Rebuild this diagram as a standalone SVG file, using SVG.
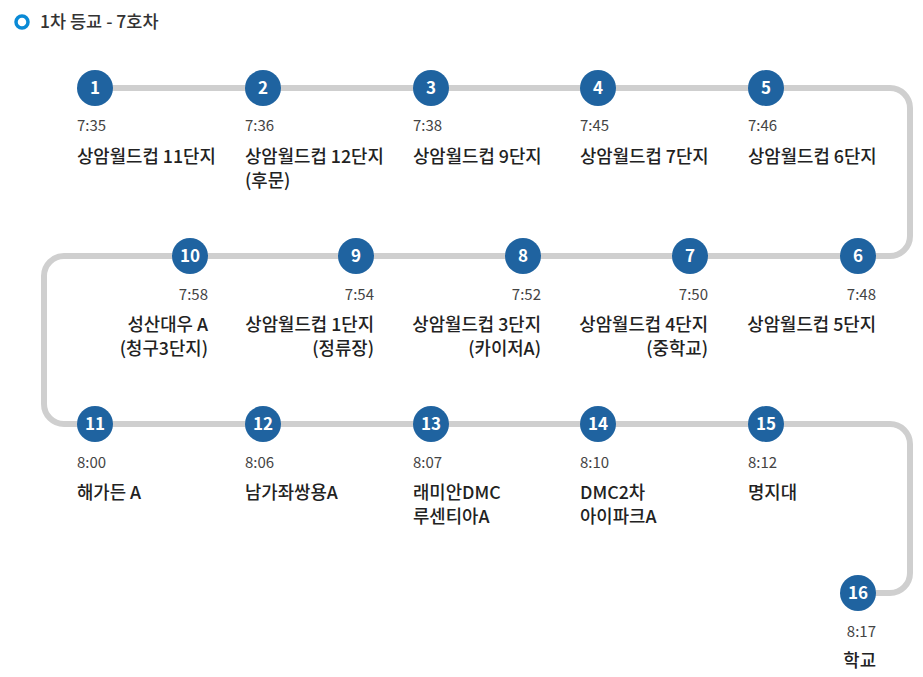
<svg xmlns="http://www.w3.org/2000/svg" width="923" height="677" viewBox="0 0 923 677">
<style>
text{font-family:"Noto Sans CJK KR","Noto Sans",sans-serif;fill:#222}
.n{fill:#fff;font-size:17px;font-weight:bold;text-anchor:middle}
.t{font-size:15px;fill:#444}
.s{font-size:17.8px;font-weight:500}
.r{text-anchor:end}
circle.c{fill:#1f63a0}
</style>
<rect width="923" height="677" fill="#fff"/>
<circle cx="22" cy="22" r="6" fill="none" stroke="#0a8ad6" stroke-width="3.5"/>
<text x="40" y="28" style="font-size:17.5px;font-weight:500;fill:#333">1차 등교 - 7호차</text>
<g id="connectors">
<path d="M95 88 H890 A20 20 0 0 1 910 108 V236 A20 20 0 0 1 890 256 H64 A20 20 0 0 0 44 276 V404 A20 20 0 0 0 64 424 H890 A20 20 0 0 1 910 444 V573 A20 20 0 0 1 890 593 H858" fill="none" stroke="#cfcfcf" stroke-width="6"/>
</g>
<g id="n1"><circle class="c" cx="95" cy="88" r="18"/><text class="n" x="95" y="94">1</text><text class="t" x="77" y="131">7:35</text><text class="s" x="77" y="163">상암월드컵 11단지</text></g>
<g id="n2"><circle class="c" cx="263" cy="88" r="18"/><text class="n" x="263" y="94">2</text><text class="t" x="245" y="131">7:36</text><text class="s" x="245" y="163">상암월드컵 12단지</text><text class="s" x="245" y="187">(후문)</text></g>
<g id="n3"><circle class="c" cx="431" cy="88" r="18"/><text class="n" x="431" y="94">3</text><text class="t" x="413" y="131">7:38</text><text class="s" x="413" y="163">상암월드컵 9단지</text></g>
<g id="n4"><circle class="c" cx="598" cy="88" r="18"/><text class="n" x="598" y="94">4</text><text class="t" x="580" y="131">7:45</text><text class="s" x="580" y="163">상암월드컵 7단지</text></g>
<g id="n5"><circle class="c" cx="766" cy="88" r="18"/><text class="n" x="766" y="94">5</text><text class="t" x="748" y="131">7:46</text><text class="s" x="748" y="163">상암월드컵 6단지</text></g>
<g id="n6"><circle class="c" cx="858" cy="256" r="18"/><text class="n" x="858" y="262">6</text><text class="t r" x="876" y="300">7:48</text><text class="s r" x="876" y="331">상암월드컵 5단지</text></g>
<g id="n7"><circle class="c" cx="690" cy="256" r="18"/><text class="n" x="690" y="262">7</text><text class="t r" x="708" y="300">7:50</text><text class="s r" x="708" y="331">상암월드컵 4단지</text><text class="s r" x="708" y="355">(중학교)</text></g>
<g id="n8"><circle class="c" cx="523" cy="256" r="18"/><text class="n" x="523" y="262">8</text><text class="t r" x="541" y="300">7:52</text><text class="s r" x="541" y="331">상암월드컵 3단지</text><text class="s r" x="541" y="355">(카이저A)</text></g>
<g id="n9"><circle class="c" cx="356" cy="256" r="18"/><text class="n" x="356" y="262">9</text><text class="t r" x="374" y="300">7:54</text><text class="s r" x="374" y="331">상암월드컵 1단지</text><text class="s r" x="374" y="355">(정류장)</text></g>
<g id="n10"><circle class="c" cx="190" cy="256" r="18"/><text class="n" x="190" y="262">10</text><text class="t r" x="208" y="300">7:58</text><text class="s r" x="208" y="331">성산대우 A</text><text class="s r" x="208" y="355">(청구3단지)</text></g>
<g id="n11"><circle class="c" cx="95" cy="424" r="18"/><text class="n" x="95" y="430">11</text><text class="t" x="77" y="468">8:00</text><text class="s" x="77" y="499">해가든 A</text></g>
<g id="n12"><circle class="c" cx="263" cy="424" r="18"/><text class="n" x="263" y="430">12</text><text class="t" x="245" y="468">8:06</text><text class="s" x="245" y="499">남가좌쌍용A</text></g>
<g id="n13"><circle class="c" cx="431" cy="424" r="18"/><text class="n" x="431" y="430">13</text><text class="t" x="413" y="468">8:07</text><text class="s" x="413" y="499">래미안DMC</text><text class="s" x="413" y="523">루센티아A</text></g>
<g id="n14"><circle class="c" cx="598" cy="424" r="18"/><text class="n" x="598" y="430">14</text><text class="t" x="580" y="468">8:10</text><text class="s" x="580" y="499">DMC2차</text><text class="s" x="580" y="523">아이파크A</text></g>
<g id="n15"><circle class="c" cx="766" cy="424" r="18"/><text class="n" x="766" y="430">15</text><text class="t" x="748" y="468">8:12</text><text class="s" x="748" y="499">명지대</text></g>
<g id="n16"><circle class="c" cx="858" cy="593" r="18"/><text class="n" x="858" y="599">16</text><text class="t r" x="876" y="637">8:17</text><text class="s r" x="876" y="667">학교</text></g>
</svg>
